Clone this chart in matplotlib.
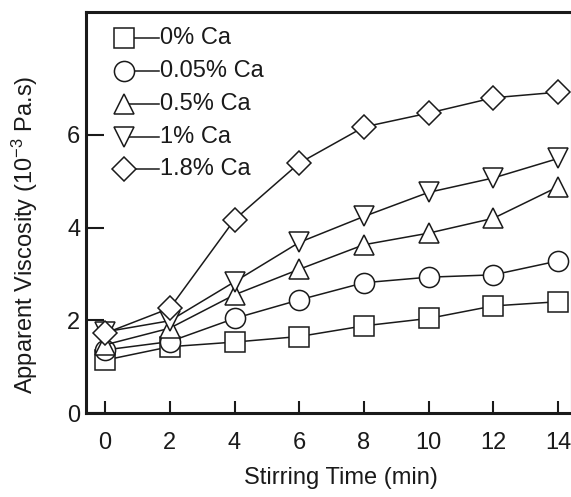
import matplotlib
matplotlib.use("Agg")
import matplotlib.pyplot as plt

# Stirring time (min) and apparent viscosity (10^-3 Pa.s) for each Ca addition
time_min = [0, 2, 4, 6, 8, 10, 12, 14]
visc_ca_0 = [1.14, 1.43, 1.53, 1.65, 1.88, 2.04, 2.31, 2.40]
visc_ca_005 = [1.36, 1.54, 2.04, 2.44, 2.81, 2.93, 2.98, 3.28]
visc_ca_05 = [1.47, 1.83, 2.55, 3.10, 3.63, 3.88, 4.20, 4.88]
visc_ca_1 = [1.75, 1.99, 2.83, 3.68, 4.24, 4.76, 5.07, 5.49]
visc_ca_18 = [1.72, 2.26, 4.17, 5.39, 6.17, 6.47, 6.80, 6.92]

series_labels = ["0% Ca", "0.05% Ca", "0.5% Ca", "1% Ca", "1.8% Ca"]
series_values = [visc_ca_0, visc_ca_005, visc_ca_05, visc_ca_1, visc_ca_18]
series_markers = ["s", "o", "^", "v", "D"]
marker_sizes = [14.5, 14.5, 14.5, 14.5, 12.0]

x_ticks = [0, 2, 4, 6, 8, 10, 12, 14]
y_ticks = [0, 2, 4, 6]

plt.rcParams["font.family"] = ["Liberation Sans", "DejaVu Sans"]
plt.rcParams["mathtext.fontset"] = "custom"
plt.rcParams["mathtext.rm"] = "Liberation Sans"
plt.rcParams["mathtext.default"] = "regular"

ink = "#1a1a1a"
W, H = 571, 497
fig = plt.figure(figsize=(W / 100, H / 100), dpi=100)
ax_left, ax_right, ax_top, ax_bottom = 86, 572, 12, 413
ax = fig.add_axes([ax_left / W, (H - ax_bottom) / H,
                   (ax_right - ax_left) / W, (ax_bottom - ax_top) / H])

for vals, mk, ms in zip(series_values, series_markers, marker_sizes):
    ax.plot(time_min, vals, color=ink, lw=1.1, marker=mk, markersize=ms,
            markerfacecolor="white", markeredgecolor=ink, markeredgewidth=1.1,
            zorder=3, clip_on=False)

ax.set_xlim(-0.59, 14.43)
ax.set_ylim(0, 8.65)
ax.set_xticks(x_ticks)
ax.set_yticks(y_ticks)
ax.tick_params(axis="x", direction="in", length=9, width=1.5, pad=14,
               labelsize=17, colors=ink)
ax.tick_params(axis="y", direction="in", length=13, width=1.5, pad=4,
               labelsize=17, colors=ink)
for side in ("top", "right", "bottom", "left"):
    ax.spines[side].set_linewidth(2.2)
    ax.spines[side].set_color(ink)

ax.set_xlabel("Stirring Time (min)", fontsize=17, color=ink, va="center")
ax.xaxis.set_label_coords(0.524, -0.162)
ax.set_ylabel("Apparent Viscosity (10$^{-3}$ Pa.s)", fontsize=17, color=ink,
              va="center")
ax.yaxis.set_label_coords(-0.126, 0.444)

# Key in the upper left: marker, short rule, then label
key_y_px = [38, 71, 104, 137, 169]
mark_x = (124 - ax_left) / (ax_right - ax_left)
rule_end = (159 - ax_left) / (ax_right - ax_left)
text_x = (160 - ax_left) / (ax_right - ax_left)
for label, mk, ms, ypx in zip(series_labels, series_markers, marker_sizes, key_y_px):
    ya = (ax_bottom - ypx) / (ax_bottom - ax_top)
    ax.plot([mark_x, rule_end], [ya, ya], transform=ax.transAxes, color=ink,
            lw=1.1, zorder=4, clip_on=False)
    ax.plot([mark_x], [ya], transform=ax.transAxes, marker=mk, markersize=ms,
            markerfacecolor="white", markeredgecolor=ink, markeredgewidth=1.1,
            linestyle="none", zorder=5, clip_on=False)
    ax.text(text_x, ya, label, transform=ax.transAxes, fontsize=17, color=ink,
            ha="left", va="center")

fig.savefig("out.png", dpi=100)
